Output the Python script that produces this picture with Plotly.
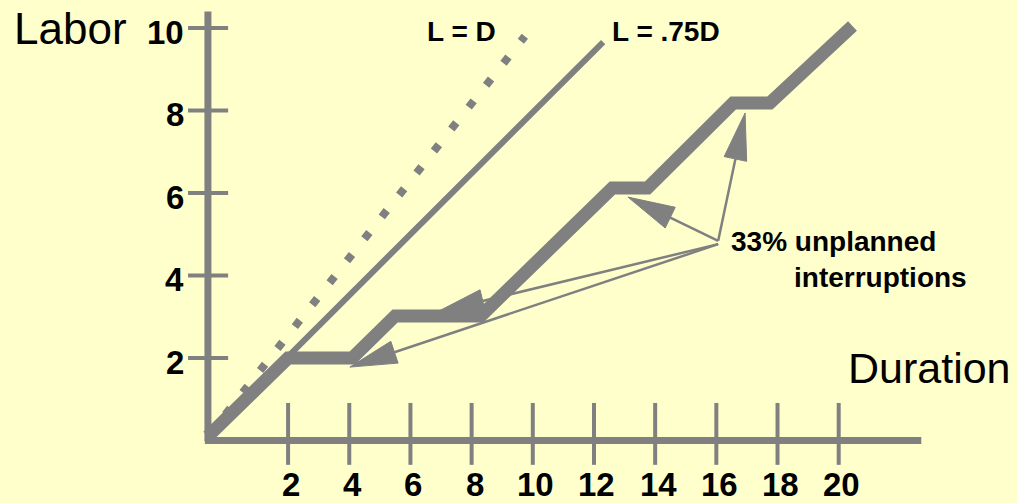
import math
import plotly.graph_objects as go

# ---------------- data ----------------
duration_ticks = [2, 4, 6, 8, 10, 12, 14, 16, 18, 20]
labor_ticks = [2, 4, 6, 8, 10]

# actual progress with unplanned interruptions (duration, labor)
actual_duration = [-0.62, 2.0, 4.1, 5.5, 8.3, 12.6, 13.75, 16.55, 17.75, 20.45]
actual_labor = [0.1, 2.0, 2.0, 3.02, 3.02, 6.12, 6.12, 8.18, 8.18, 10.05]

# reference lines
l_eq_d_duration = [-0.62, 9.74]
l_eq_d_labor = [0.1, 9.8]
l_75_duration = [-0.62, 12.3]
l_75_labor = [0.1, 9.66]

# annotation arrows (tail at the text, tips at the interruptions)
arrow_tail_duration = [16.06, 16.06, 16.06, 16.06]
arrow_tail_labor = [4.84, 4.84, 4.76, 4.76]
arrow_tip_duration = [13.11, 16.94, 6.87, 4.02]
arrow_tip_labor = [5.90, 7.94, 3.115, 1.78]

# axes extents
axis_origin_duration = -0.62
axis_end_duration = 22.7
axis_top_labor = 10.4

# ---------------- styling / scale ----------------
W, H = 1017, 503
X0_PX, SX = 226.9, 30.59   # pixel of duration 0, pixels per unit
Y0_PX, SY = 440.5, 41.25   # pixel of labor 0, pixels per unit
XR = [(0 - X0_PX) / SX, (W - X0_PX) / SX]
YR = [(Y0_PX - H) / SY, Y0_PX / SY]

GRAY = "#808080"
BG = "#FFFFCC"
FONT = "Liberation Sans, Arial, sans-serif"


def to_px(x, y):
    return X0_PX + SX * x, Y0_PX - SY * y


def to_data(px, py):
    return (px - X0_PX) / SX, (Y0_PX - py) / SY


fig = go.Figure()

# axes lines
fig.add_trace(go.Scatter(
    x=[axis_origin_duration, axis_origin_duration, None, axis_origin_duration - 0.1, axis_end_duration],
    y=[-0.02, axis_top_labor, None, 0, 0],
    mode="lines", line=dict(color=GRAY, width=7), hoverinfo="skip"))

# tick marks (crossing the axes)
tx, ty = [], []
for t in duration_ticks:
    tx += [t, t, None]
    ty += [0.91, -0.59, None]
for t in labor_ticks:
    tx += [-1.27, 0.04, None]
    ty += [t, t, None]
fig.add_trace(go.Scatter(x=tx, y=ty, mode="lines",
                         line=dict(color=GRAY, width=4), hoverinfo="skip"))

# L = D dotted line
fig.add_trace(go.Scatter(x=l_eq_d_duration, y=l_eq_d_labor, mode="lines",
                         line=dict(color=GRAY, width=8, dash="8px,20px"),
                         hoverinfo="skip"))
# L = .75D line
fig.add_trace(go.Scatter(x=l_75_duration, y=l_75_labor, mode="lines",
                         line=dict(color=GRAY, width=6), hoverinfo="skip"))
# actual staircase
fig.add_trace(go.Scatter(x=actual_duration, y=actual_labor, mode="lines",
                         line=dict(color=GRAY, width=13), hoverinfo="skip"))

# arrows: shaft + narrow triangular head
HEAD_LEN, HEAD_W = 47, 23
for x0, y0, x1, y1 in zip(arrow_tail_duration, arrow_tail_labor,
                          arrow_tip_duration, arrow_tip_labor):
    p0x, p0y = to_px(x0, y0)
    p1x, p1y = to_px(x1, y1)
    dx, dy = p0x - p1x, p0y - p1y
    d = math.hypot(dx, dy)
    ux, uy = dx / d, dy / d
    bx, by = p1x + ux * HEAD_LEN, p1y + uy * HEAD_LEN
    nx, ny = -uy, ux
    v1 = to_data(bx + nx * HEAD_W / 2, by + ny * HEAD_W / 2)
    v2 = to_data(bx - nx * HEAD_W / 2, by - ny * HEAD_W / 2)
    bxd, byd = to_data(bx, by)
    fig.add_trace(go.Scatter(x=[x0, bxd], y=[y0, byd], mode="lines",
                             line=dict(color=GRAY, width=2.5), hoverinfo="skip"))
    fig.add_trace(go.Scatter(x=[x1, v1[0], v2[0], x1], y=[y1, v1[1], v2[1], y1],
                             mode="lines", fill="toself", fillcolor=GRAY,
                             line=dict(color=GRAY, width=1), hoverinfo="skip"))

annotations = []
# tick labels
for t in duration_ticks:
    annotations.append(dict(x=t, y=0, xref="x", yref="y",
                            text=f"<b>{t}</b>", showarrow=False,
                            xanchor="center", yanchor="middle",
                            xshift=3, yshift=-44,
                            font=dict(family=FONT, size=33, color="black")))
for t in labor_ticks:
    annotations.append(dict(x=-1.40, y=t, xref="x", yref="y",
                            text=f"<b>{t}</b>", showarrow=False,
                            xanchor="right", yanchor="middle", xshift=2, yshift=-4,
                            font=dict(family=FONT, size=33, color="black")))


def txt(text, left_px, cy_px, size, bold=False):
    return dict(x=left_px / W, y=1 - cy_px / H, xref="paper", yref="paper",
                text=f"<b>{text}</b>" if bold else text, showarrow=False,
                xanchor="left", yanchor="middle",
                font=dict(family=FONT, size=size, color="black"))


annotations += [
    txt("Labor", 12, 28, 44),
    txt("Duration", 846, 368, 43),
    txt("L = D", 425, 31, 28, True),
    txt("L = .75D", 610, 31, 28, True),
    txt("33% unplanned", 729, 241, 28, True),
    txt("interruptions", 792, 277, 28, True),
]

fig.update_layout(
    width=W, height=H, autosize=False,
    margin=dict(l=0, r=0, t=0, b=0, pad=0),
    paper_bgcolor=BG, plot_bgcolor=BG,
    showlegend=False,
    xaxis=dict(range=XR, visible=False, fixedrange=True),
    yaxis=dict(range=YR, visible=False, fixedrange=True),
    annotations=annotations,
)

fig.write_html("out.html", config={"displayModeBar": False},
               post_script="document.body.style.margin='0';"
                           "document.body.style.overflow='hidden';"
                           "document.body.style.background='#FFFFCC';")
